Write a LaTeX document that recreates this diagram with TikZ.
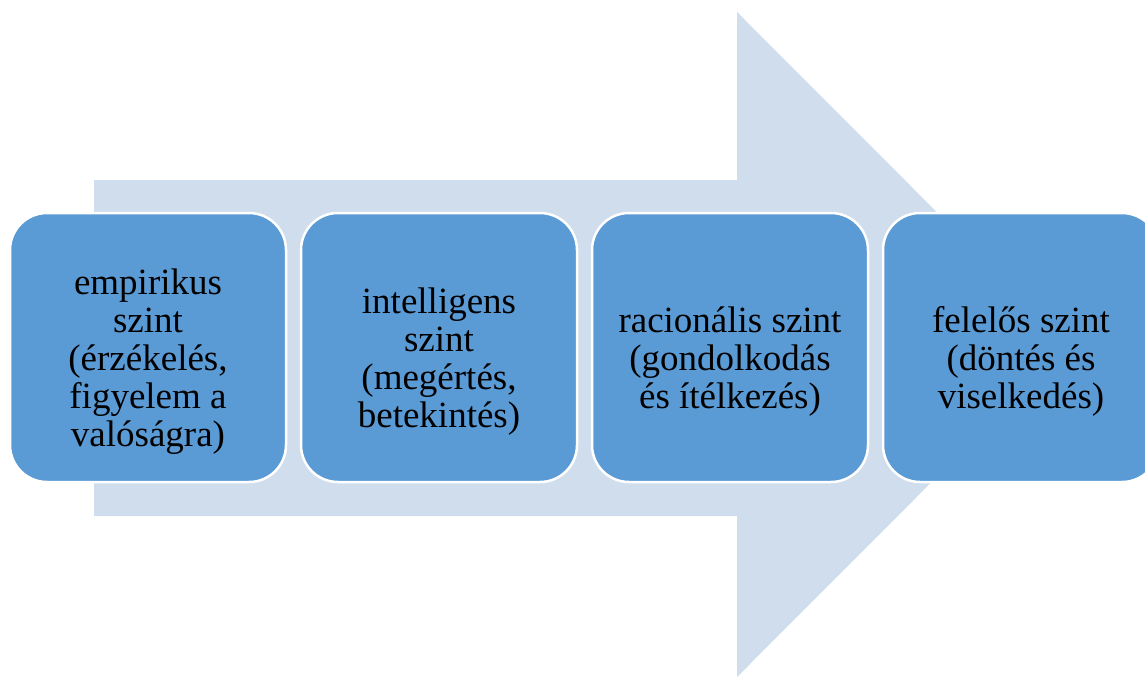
\documentclass[tikz,border=0pt]{standalone}
\usepackage{fontspec}
\setmainfont{Liberation Serif}
\definecolor{arrowfill}{RGB}{207,221,237}
\definecolor{boxfill}{RGB}{91,155,213}
\tikzset{
  stage/.style={draw=white, line width=2.5pt, fill=boxfill, rounded corners=37pt,
    minimum width=276pt, minimum height=269pt, inner sep=0pt},
  stagetext/.style={inner sep=0pt, align=center,
    font=\fontsize{37}{38}\selectfont, text=black}
}
\begin{document}
\begin{tikzpicture}[x=1pt,y=-1pt]
  \useasboundingbox (0,0) rectangle (1145,677);
  \clip (0,0) rectangle (1145,677);
  % broad background arrow
  \fill[arrowfill] (94,180) -- (737,180) -- (737,12) -- (1069,344.5)
    -- (737,677) -- (737,516) -- (94,516) -- cycle;
  % the four stages
  \node[stage] (s1) at (148,347.5) {};
  \node[stage] (s2) at (439,347.5) {};
  \node[stage] (s3) at (730,347.5) {};
  \node[stage] (s4) at (1021,347.5) {};
  % their labels, sitting a little below the centre
  \node[stagetext] (t1) at ([yshift=-14pt]s1.center) {empirikus\\szint\\(érzékelés,\\figyelem a\\valóságra)};
  \node[stagetext] (t2) at ([yshift=-14pt]s2.center) {intelligens\\szint\\(megértés,\\betekintés)};
  \node[stagetext] (t3) at ([yshift=-14pt]s3.center) {racionális szint\\(gondolkodás\\és ítélkezés)};
  \node[stagetext] (t4) at ([yshift=-14pt]s4.center) {felelős szint\\(döntés és\\viselkedés)};
\end{tikzpicture}
\end{document}
